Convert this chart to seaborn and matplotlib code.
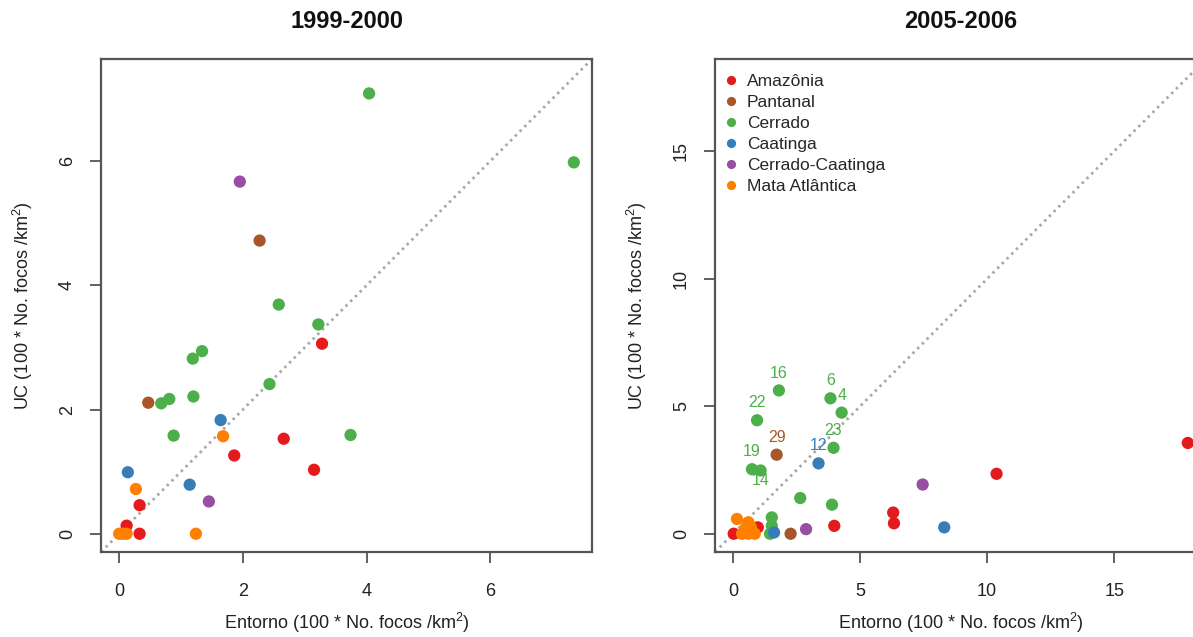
import pandas as pd
import matplotlib
matplotlib.use("Agg")
import matplotlib.pyplot as plt
import seaborn as sns

# biomas e cores
biomas = ["Amazônia", "Pantanal", "Cerrado", "Caatinga", "Cerrado-Caatinga", "Mata Atlântica"]
cores = ["#E41A1C", "#A65628", "#4DAF4A", "#377EB8", "#984EA3", "#FF7F00"]

# periodo 1999-2000
ent_99 = [3.28, 2.66, 1.86, 3.15, 0.33, 0.12, 0.33,
          0.47, 2.27,
          4.04, 7.35, 2.58, 3.22, 1.34, 1.19, 2.43, 1.20, 0.81, 0.68, 0.88, 3.74,
          1.64, 0.14, 1.14,
          1.95, 1.45,
          1.68, 0.27, 1.24, 0.00, 0.06, 0.12]
uc_99 = [3.06, 1.53, 1.26, 1.03, 0.46, 0.13, 0.00,
         2.11, 4.72,
         7.09, 5.98, 3.69, 3.37, 2.94, 2.82, 2.41, 2.21, 2.17, 2.10, 1.58, 1.59,
         1.83, 0.99, 0.79,
         5.67, 0.52,
         1.57, 0.72, 0.00, 0.00, 0.00, 0.00]
bio_99 = (["Amazônia"] * 7 + ["Pantanal"] * 2 + ["Cerrado"] * 12 + ["Caatinga"] * 3
          + ["Cerrado-Caatinga"] * 2 + ["Mata Atlântica"] * 6)

# periodo 2005-2006
ent_05 = [17.90, 10.37, 6.30, 6.33, 3.98, 0.97, 0.02,
          1.71, 2.26,
          1.80, 3.83, 4.27, 0.94, 3.95, 0.74, 1.08, 2.64, 3.89, 1.52, 1.52, 1.45,
          3.36, 8.31, 1.61,
          7.46, 2.87,
          0.15, 0.60, 0.50, 0.70, 0.45, 0.60, 0.75, 0.85, 0.35]
uc_05 = [3.56, 2.35, 0.83, 0.41, 0.31, 0.25, 0.00,
         3.10, 0.00,
         5.62, 5.31, 4.75, 4.45, 3.37, 2.53, 2.48, 1.40, 1.14, 0.64, 0.31, 0.00,
         2.76, 0.25, 0.05,
         1.93, 0.18,
         0.58, 0.45, 0.25, 0.25, 0.05, 0.00, 0.05, 0.00, 0.00]
bio_05 = (["Amazônia"] * 7 + ["Pantanal"] * 2 + ["Cerrado"] * 12 + ["Caatinga"] * 3
          + ["Cerrado-Caatinga"] * 2 + ["Mata Atlântica"] * 9)
rot_05 = ["", "", "", "", "", "", "",
          "29", "",
          "16", "6", "4", "22", "23", "19", "14", "", "", "", "", "",
          "12", "", "",
          "", "",
          "", "", "", "", "", "", "", "", ""]

sns.set_style("ticks")
plt.rcParams["font.family"] = ["Liberation Sans", "DejaVu Sans"]
plt.rcParams["mathtext.fontset"] = "custom"
plt.rcParams["mathtext.rm"] = "Liberation Sans"
plt.rcParams["mathtext.it"] = "Liberation Sans"

paleta = dict(zip(biomas, cores))
cor_eixo = "#555555"

fig = plt.figure(figsize=(11.93, 6.37), dpi=100)
W, H = 1193, 637
ax1 = fig.add_axes([101 / W, (H - 552) / H, 491 / W, 493 / H])
ax2 = fig.add_axes([715 / W, (H - 552) / H, 491 / W, 493 / H])

rotulo_x = r"Entorno (100 * No. focos /km$^{2}$)"
rotulo_y = r"UC (100 * No. focos /km$^{2}$)"

paineis = [(ax1, ent_99, uc_99, bio_99, "1999-2000", [0, 2, 4, 6]),
           (ax2, ent_05, uc_05, bio_05, "2005-2006", [0, 5, 10, 15])]

for ax, ex, uy, bio, titulo, ticks in paineis:
    df = pd.DataFrame({"ent": ex, "uc": uy, "bioma": bio})
    sns.scatterplot(data=df, x="ent", y="uc", hue="bioma", hue_order=biomas,
                    palette=paleta, s=78, linewidth=0, alpha=1,
                    legend=(ax is ax2), ax=ax, zorder=3)
    m = max(max(ex), max(uy))
    lim = (-0.04 * m, 1.04 * m)
    ax.set_xlim(lim)
    ax.set_ylim(lim)
    ax.axline((0, 0), slope=1, color="#a8a8a8", lw=2.0,
              linestyle=(0, (0.9, 1.5)), zorder=2)
    ax.set_xticks(ticks)
    ax.set_yticks(ticks)
    ax.tick_params(length=8, width=1.3, color=cor_eixo, labelsize=13,
                   labelcolor="#222222", pad=14)
    ax.tick_params(axis="y", labelrotation=90, pad=10)
    for t in ax.get_yticklabels():
        t.set_va("center")
    for sp in ax.spines.values():
        sp.set_visible(True)
        sp.set_color(cor_eixo)
        sp.set_linewidth(1.6)
    ax.set_xlabel(rotulo_x, fontsize=13, color="#222222", labelpad=8)
    ax.set_ylabel(rotulo_y, fontsize=13, color="#222222", labelpad=17)
    ax.set_title(titulo, fontsize=17, fontweight="bold", color="#111111", pad=22)

# rotulos das UCs destacadas
for x, y, r, b in zip(ent_05, uc_05, rot_05, bio_05):
    if r:
        dy = -7.5 if r == "14" else 12.5
        ax2.annotate(r, (x, y), xytext=(0, dy), textcoords="offset points",
                     ha="center", va="center", fontsize=11.5,
                     color=paleta[b], zorder=4)

handles, labels = ax2.get_legend_handles_labels()
ax2.legend(handles, labels, loc="upper left", bbox_to_anchor=(0.015, 0.969),
           frameon=False, fontsize=12.5, labelspacing=0.33, borderpad=0,
           borderaxespad=0, handlelength=1.0, handletextpad=0.42,
           markerscale=0.75)

fig.savefig("out.png", dpi=100)
